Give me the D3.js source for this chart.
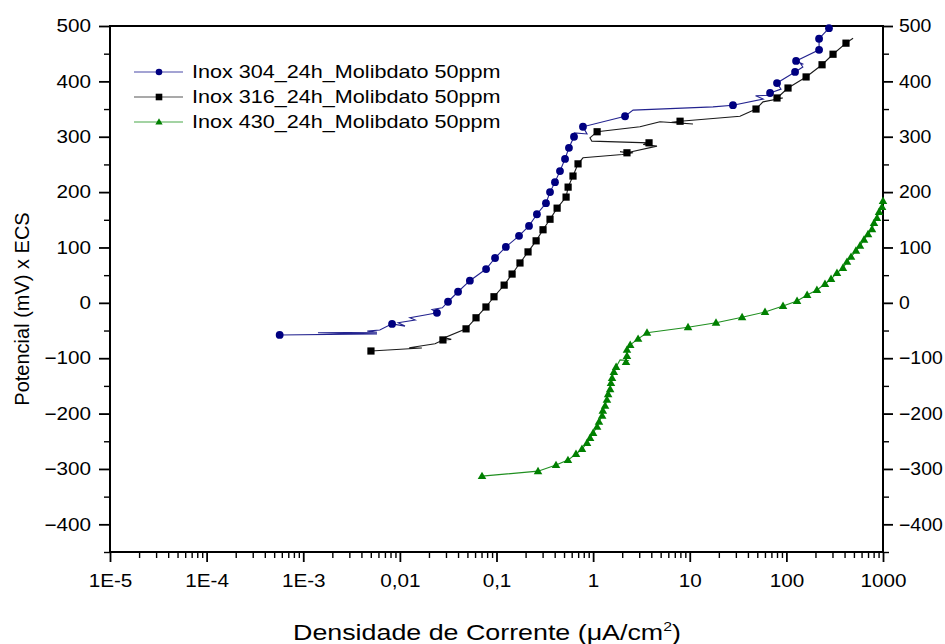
<!DOCTYPE html>
<meta charset="utf-8">
<html>
<style>
  body { margin: 0; background: #fff; }
  svg text { font-family: "Liberation Sans", Arial, sans-serif; fill: #000; }
  .frame { fill: none; stroke: #000; stroke-width: 2; }
  .tick line { stroke: #000; stroke-width: 1.8; }
  .minor .tick line { stroke-width: 1.4; }
</style>
<body>
<svg width="945" height="644"></svg>
<script src="https://d3js.org/d3.v7.min.js"></script>
<script>

// ---- data: [current density (uA/cm2), potential (mV), marker?] ----
var xTicks = [1e-5, 1e-4, 1e-3, 0.01, 0.1, 1, 10, 100, 1000];
var xTickLabels = ["1E-5", "1E-4", "1E-3", "0,01", "0,1", "1", "10", "100", "1000"];
var yTicks = [-400, -300, -200, -100, 0, 100, 200, 300, 400, 500];
var yMinor = [-450, -350, -250, -150, -50, 50, 150, 250, 350, 450];

var seriesNames = [
  "Inox 304_24h_Molibdato 50ppm",
  "Inox 316_24h_Molibdato 50ppm",
  "Inox 430_24h_Molibdato 50ppm"
];

var inox304 = [
  [0.00057, -58, 1], [0.0058, -56, 0], [0.00142, -54, 0], [0.0058, -53, 0], [0.0046, -51, 0],
  [0.0062, -49, 0], [0.0083, -38, 1], [0.0113, -42, 0], [0.0096, -36, 0], [0.0144, -31, 0],
  [0.0127, -27, 0], [0.0195, -21, 0], [0.0242, -18, 1], [0.0215, -12, 0], [0.0275, -9, 0],
  [0.0315, 2, 1], [0.040, 20, 1], [0.053, 40, 1], [0.078, 61, 1], [0.0966, 81, 1],
  [0.125, 101, 1], [0.171, 121, 1], [0.217, 139, 1], [0.262, 160, 1], [0.325, 180, 1],
  [0.358, 200, 1], [0.403, 218, 1], [0.454, 238, 1], [0.512, 260, 1], [0.562, 280, 1],
  [0.634, 300, 1], [0.64, 307, 0], [0.865, 305, 0], [0.785, 318, 1], [2.14, 337, 1],
  [2.59, 348, 0], [17.4, 354, 0], [28, 357, 1], [57.5, 368, 0], [48, 374, 0],
  [70, 375, 0], [67.8, 379, 1], [88, 386, 0], [80, 397, 1], [123, 417, 1],
  [148, 426, 0], [140, 432, 0], [150, 431, 0], [126, 437, 1], [218, 457, 1],
  [218, 477, 1], [276, 496, 1], [304, 511, 0]
];

var inox316 = [
  [0.00502, -87, 1], [0.0169, -81.5, 0], [0.0125, -81, 0], [0.0231, -74, 0], [0.0279, -67, 1],
  [0.034, -66, 0], [0.029, -63, 0], [0.0484, -47, 1], [0.0614, -27, 1], [0.0778, -7.5, 1],
  [0.0942, 11, 1], [0.120, 32, 1], [0.145, 52, 1], [0.175, 72, 1], [0.212, 92, 1],
  [0.257, 112, 1], [0.303, 132, 1], [0.358, 151, 1], [0.424, 171, 1], [0.525, 191, 1],
  [0.551, 209, 1], [0.619, 229, 1], [0.698, 251, 1], [0.786, 262, 0], [2.0, 268, 0],
  [2.59, 271, 0], [1.9, 273, 0], [2.24, 271, 1], [4.58, 283, 0], [3.3, 286, 0],
  [3.79, 289, 1], [0.97, 292, 0], [0.927, 298, 0], [1.0, 303, 0], [1.10, 309, 1],
  [3.05, 318, 0], [4.92, 327, 0], [10.8, 323, 0], [6.5, 326, 0], [7.94, 328, 1],
  [33.1, 337, 0], [42, 345, 0], [48.5, 350, 1], [57.3, 363, 0], [92, 370, 0],
  [80, 370, 1], [104, 388, 1], [160, 408, 1], [234, 430, 1], [304, 449, 1],
  [414, 469, 1], [490, 478, 0]
];

var inox430 = [
  [0.0708, -313, 1], [0.269, -304, 1], [0.413, -293, 1], [0.549, -284, 1], [0.665, -273, 1],
  [0.767, -264, 1], [0.865, -253, 1], [0.93, -244, 1], [1.0, -235, 1], [1.10, -224, 1],
  [1.15, -215, 1], [1.24, -204, 1], [1.26, -195, 1], [1.33, -186, 1], [1.39, -175, 1],
  [1.43, -165, 1], [1.50, -156, 1], [1.53, -145, 1], [1.57, -136, 1], [1.64, -125, 1],
  [1.73, -116, 1], [1.9, -103, 0], [2.3, -104, 0], [2.19, -107, 1], [2.24, -96, 1],
  [2.24, -85, 1], [2.42, -76, 1], [2.92, -65, 1], [3.61, -54, 1], [9.6, -44, 1],
  [18.7, -36, 1], [34.8, -26, 1], [60.1, -16.5, 1], [92.3, -5.7, 1], [129, 3.3, 1],
  [164, 14.2, 1], [207, 23.2, 1], [251, 34, 1], [290, 43, 1], [334, 54, 1],
  [385, 63, 1], [424, 74, 1], [467, 83, 1], [525, 94, 1], [578, 103, 1],
  [636, 114, 1], [700, 124, 1], [769, 133, 1], [807, 144, 1], [867, 153, 1],
  [910, 164, 1], [977, 173, 1], [1000, 184, 1]
];

var series = [
  { name: seriesNames[0], data: inox304, line: "#23238f", fill: "#000080", shape: "circle" },
  { name: seriesNames[1], data: inox316, line: "#1a1a1a", fill: "#000000", shape: "square" },
  { name: seriesNames[2], data: inox430, line: "#1f8f1f", fill: "#008000", shape: "triangle" }
];

var svg = d3.select("svg");
var plotL = 110, plotR = 883, plotT = 26, plotB = 552;

var x = d3.scaleLog().domain([1e-5, 1000]).range([plotL, plotR]);
var y = d3.scaleLinear().domain([-450, 500]).range([plotB, plotT]);

// stretch text horizontally around its anchor point (the original export is a bit wide)
function stretch(sel, k) {
  sel.each(function() {
    var t = d3.select(this);
    var xx = +t.attr("x") || 0, yy = +t.attr("y") || 0;
    t.attr("transform", "translate(" + xx + "," + yy + ") scale(" + k + ",1) translate(" + (-xx) + "," + (-yy) + ")");
  });
}

svg.append("clipPath").attr("id", "plot")
  .append("rect").attr("x", plotL).attr("y", plotT)
  .attr("width", plotR - plotL).attr("height", plotB - plotT);

// minor x ticks 2..9 of each decade
var xMinor = [];
for (var e = -5; e < 3; e++) {
  for (var k = 2; k <= 9; k++) xMinor.push(k * Math.pow(10, e));
}

function styleAxis(g) {
  g.select(".domain").remove();
  g.attr("font-family", "Liberation Sans, Arial, sans-serif").attr("font-size", 18);
}

svg.append("g").attr("class", "minor")
  .attr("transform", "translate(0," + plotB + ")")
  .call(d3.axisBottom(x).tickValues(xMinor).tickSize(6).tickFormat(""))
  .call(styleAxis);

var gx = svg.append("g")
  .attr("transform", "translate(0," + plotB + ")")
  .call(d3.axisBottom(x).tickValues(xTicks).tickSize(10).tickPadding(9)
    .tickFormat(function(d, i) { return xTickLabels[i]; }))
  .call(styleAxis);
gx.selectAll("text").attr("dy", "0.9em");
stretch(gx.selectAll("text"), 1.15);

svg.append("g").attr("class", "minor")
  .attr("transform", "translate(" + plotL + ",0)")
  .call(d3.axisLeft(y).tickValues(yMinor).tickSize(6).tickFormat(""))
  .call(styleAxis);

var gyl = svg.append("g")
  .attr("transform", "translate(" + plotL + ",0)")
  .call(d3.axisLeft(y).tickValues(yTicks).tickSize(11).tickPadding(8))
  .call(styleAxis);
stretch(gyl.selectAll("text"), 1.15);

svg.append("g").attr("class", "minor")
  .attr("transform", "translate(" + plotR + ",0)")
  .call(d3.axisRight(y).tickValues(yMinor).tickSize(6).tickFormat(""))
  .call(styleAxis);

var gyr = svg.append("g")
  .attr("transform", "translate(" + plotR + ",0)")
  .call(d3.axisRight(y).tickValues(yTicks).tickSize(10).tickPadding(6))
  .call(styleAxis);
stretch(gyr.selectAll("text"), 1.08);

svg.append("rect").attr("class", "frame")
  .attr("x", plotL).attr("y", plotT)
  .attr("width", plotR - plotL).attr("height", plotB - plotT);

// axis titles
svg.append("text")
  .attr("transform", "translate(29," + ((plotT + plotB) / 2 + 20) + ") rotate(-90)")
  .attr("text-anchor", "middle")
  .attr("font-size", 20)
  .text("Potencial (mV) x ECS");

var xt = svg.append("text")
  .attr("x", 487).attr("y", 640)
  .attr("text-anchor", "middle")
  .attr("font-size", 22);
xt.append("tspan").text("Densidade de Corrente (\u03BCA/cm");
xt.append("tspan").attr("dy", -9).attr("font-size", 13).text("2");
xt.append("tspan").attr("dy", 9).text(")");
stretch(xt, 1.22);

// markers
function drawMarker(g, shape, cx, cy, r, fill) {
  if (shape === "circle") {
    g.append("circle").attr("cx", cx).attr("cy", cy).attr("r", r).attr("fill", fill);
  } else if (shape === "square") {
    g.append("rect").attr("x", cx - r).attr("y", cy - r)
      .attr("width", 2 * r).attr("height", 2 * r).attr("fill", fill);
  } else {
    var h = r * 1.9;
    g.append("path")
      .attr("d", "M" + cx + "," + (cy - h * 0.6) + "L" + (cx + r * 1.1) + "," + (cy + h * 0.4) +
        "L" + (cx - r * 1.1) + "," + (cy + h * 0.4) + "Z")
      .attr("fill", fill);
  }
}

var line = d3.line()
  .x(function(d) { return x(d[0]); })
  .y(function(d) { return y(d[1]); });

series.forEach(function(s) {
  svg.append("path")
    .datum(s.data)
    .attr("clip-path", "url(#plot)")
    .attr("fill", "none")
    .attr("stroke", s.line)
    .attr("stroke-width", 1.1)
    .attr("d", line);

  var gm = svg.append("g");
  s.data.filter(function(d) { return d[2] === 1 && d[1] <= 500; }).forEach(function(d) {
    drawMarker(gm, s.shape, x(d[0]), y(d[1]), s.shape === "square" ? 3.6 : 3.9, s.fill);
  });
});

// legend
var legend = svg.append("g");
var legendColors = ["#4848a8", "#555555", "#48a848"];
series.forEach(function(s, i) {
  var ly = 72 + i * 25;
  legend.append("line")
    .attr("x1", 134).attr("x2", 183).attr("y1", ly).attr("y2", ly)
    .attr("stroke", legendColors[i]).attr("stroke-width", 1.2);
  drawMarker(legend, s.shape, 159, ly, 3.3, s.fill);
  var t = legend.append("text")
    .attr("x", 192).attr("y", ly)
    .attr("dy", "0.36em")
    .attr("font-size", 18)
    .text(s.name);
  stretch(t, 1.2);
});

</script>
</body>
</html>
